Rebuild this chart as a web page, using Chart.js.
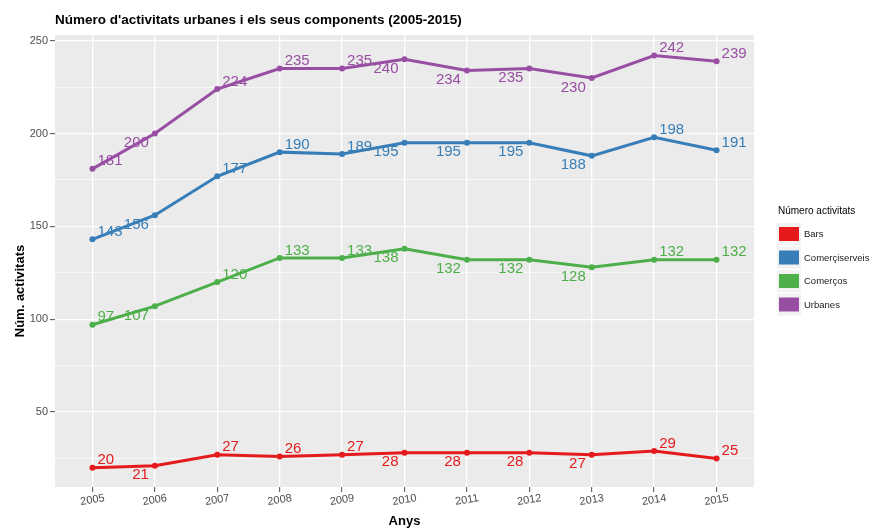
<!DOCTYPE html>
<html>
<head>
<meta charset="utf-8">
<script src="https://cdn.jsdelivr.net/npm/chart.js@4.4.1/dist/chart.umd.min.js"></script>
<style>
  html, body { margin: 0; padding: 0; background: #fff; }
  #wrap { width: 872px; height: 529px; }
</style>
</head>
<body>
<div id="wrap"><canvas id="chart" width="872" height="529"></canvas></div>
<script>
const years = [2005, 2006, 2007, 2008, 2009, 2010, 2011, 2012, 2013, 2014, 2015];
const bars = [20, 21, 27, 26, 27, 28, 28, 28, 27, 29, 25];
const comercServeis = [143, 156, 177, 190, 189, 195, 195, 195, 188, 198, 191];
const comercos = [97, 107, 120, 133, 133, 138, 132, 132, 128, 132, 132];
const urbanes = [181, 200, 224, 235, 235, 240, 234, 235, 230, 242, 239];
const yTicks = [50, 100, 150, 200, 250];
const seriesNames = ["Bars", "Comerçiserveis", "Comerços", "Urbanes"];
const seriesColors = ["#E41A1C", "#377EB8", "#4DAF4A", "#984EA3"];
// which year labels sit below-left of the point (the rest go above-right)
const labelBelow = [false, true, false, false, false, true, true, true, true, false, false];

const FONT = '"Liberation Sans", Arial, sans-serif';
const allSeries = [bars, comercServeis, comercos, urbanes];

const ggPlugin = {
  id: "gg",
  beforeDraw(chart) {
    const { ctx, chartArea: a } = chart;
    ctx.save();
    ctx.fillStyle = "#EBEBEB";
    ctx.fillRect(a.left, a.top, a.right - a.left, a.bottom - a.top);
    ctx.restore();
  },
  afterDatasetsDraw(chart) {
    const ctx = chart.ctx;
    ctx.save();
    ctx.font = "15px " + FONT;
    ctx.textBaseline = "middle";
    chart.data.datasets.forEach((ds, di) => {
      const meta = chart.getDatasetMeta(di);
      ctx.fillStyle = ds.borderColor;
      meta.data.forEach((pt, i) => {
        const v = ds.data[i].y;
        if (labelBelow[i]) {
          ctx.textAlign = "right";
          ctx.fillText(String(v), pt.x - 6, pt.y + 9.5);
        } else {
          ctx.textAlign = "left";
          ctx.fillText(String(v), pt.x + 5, pt.y - 7.5);
        }
      });
    });
    ctx.restore();
  },
  afterDraw(chart) {
    const { ctx, chartArea: a } = chart;
    const xs = chart.scales.x;
    ctx.save();

    // title
    ctx.fillStyle = "#000";
    ctx.font = "bold 13.5px " + FONT;
    ctx.textAlign = "left";
    ctx.textBaseline = "middle";
    ctx.fillText("Número d'activitats urbanes i els seus components (2005-2015)", a.left, 20);

    // x tick labels, slightly tilted
    ctx.font = "11px " + FONT;
    ctx.fillStyle = "#4D4D4D";
    ctx.textAlign = "center";
    years.forEach((yr) => {
      const px = xs.getPixelForValue(yr);
      ctx.save();
      ctx.translate(px, 500);
      ctx.rotate(-9 * Math.PI / 180);
      ctx.fillText(String(yr), 0, 0);
      ctx.restore();
    });

    // axis titles
    ctx.fillStyle = "#000";
    ctx.font = "bold 13px " + FONT;
    ctx.fillText("Anys", (a.left + a.right) / 2, 521);
    ctx.save();
    ctx.translate(20, 291);
    ctx.rotate(-Math.PI / 2);
    ctx.fillText("Núm. activitats", 0, 0);
    ctx.restore();

    // legend
    ctx.textAlign = "left";
    ctx.font = "10px " + FONT;
    ctx.fillText("Número activitats", 778, 211);
    ctx.font = "9.5px " + FONT;
    seriesNames.forEach((name, i) => {
      const cy = 234 + i * 23.5;
      ctx.fillStyle = "#F2F2F2";
      ctx.fillRect(777, cy - 11, 24, 22);
      ctx.fillStyle = seriesColors[i];
      ctx.fillRect(779, cy - 7, 20, 14);
      ctx.fillStyle = "#1A1A1A";
      ctx.fillText(name, 804, cy + 0.5);
    });
    ctx.restore();
  }
};

const datasets = allSeries.map((vals, i) => ({
  label: seriesNames[i],
  data: years.map((yr, j) => ({ x: yr, y: vals[j] })),
  borderColor: seriesColors[i],
  backgroundColor: seriesColors[i],
  borderWidth: 3,
  pointRadius: 3,
  pointBorderWidth: 0,
  tension: 0,
  fill: false
}));

new Chart(document.getElementById("chart").getContext("2d"), {
  type: "line",
  data: { datasets },
  options: {
    responsive: false,
    animation: false,
    devicePixelRatio: 1,
    layout: { padding: { left: 0, top: 35, right: 118, bottom: 0 } },
    plugins: {
      legend: { display: false },
      title: { display: false },
      tooltip: { enabled: false }
    },
    scales: {
      x: {
        type: "linear",
        min: 2004.4,
        max: 2015.6,
        afterBuildTicks: (s) => { s.ticks = years.map((v) => ({ value: v })); },
        afterFit: (s) => { s.height = 42; },
        ticks: { color: "rgba(0,0,0,0)", font: { size: 11 }, autoSkip: false, maxRotation: 0 },
        grid: { color: "#FFFFFF", lineWidth: 1.3, tickLength: 5, tickColor: "#4D4D4D", tickWidth: 1 },
        border: { display: false }
      },
      y: {
        min: 9.6,
        max: 253.1,
        afterBuildTicks: (s) => {
          s.ticks = yTicks.flatMap((v) => [v - 25, v]).map((v) => ({ value: v }));
        },
        afterFit: (s) => { s.width = 55; },
        ticks: {
          autoSkip: false,
          padding: 2,
          color: "#4D4D4D",
          font: { family: FONT, size: 11 },
          callback: (v) => (v % 50 === 0 ? String(v) : "")
        },
        grid: {
          color: "#FFFFFF",
          lineWidth: (c) => (c.tick && c.tick.value % 50 === 0 ? 1.3 : 0.6),
          tickLength: 5,
          tickColor: (c) => (c.tick && c.tick.value % 50 === 0 ? "#4D4D4D" : "rgba(0,0,0,0)"),
          tickWidth: 1
        },
        border: { display: false }
      }
    }
  },
  plugins: [ggPlugin]
});
</script>
</body>
</html>
